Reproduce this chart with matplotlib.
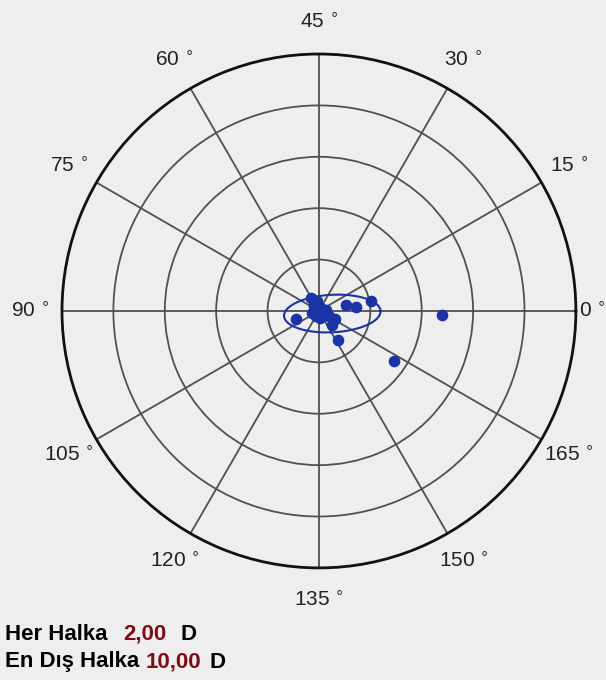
import numpy as np
import matplotlib
matplotlib.use("Agg")
import matplotlib.pyplot as plt

# astigmatism vectors: magnitude (D) and axis (deg); plotted on a double-angle chart
magnitude = [4.80, 3.51, 2.07, 1.08, 1.44, 0.96, 1.36, 0.75, 0.57, 0.28,
             0.24, 0.27, 0.26, 0.44, 0.70, 0.27, 0.39, 0.10, 0.15, 0.33]
axis_deg = [179.0, 163.2, 5.6, 6.1, 2.8, 99.7, 151.7, 157.0, 60.3, 67.5,
            118.5, 141.5, 4.4, 166.4, 166.3, 96.5, 49.4, 130.0, 30.0, 170.0]

# 95% ellipse (cartesian double-angle space, D)
ell_cx, ell_cy = 0.52, -0.10
ell_a, ell_b = 1.88, 0.73
ell_tilt = 3.0

ring_step = 2.0
outer_ring = 10.0
tick_axes = list(range(0, 180, 15))

bg = "#eeeeee"
dot_col = "#1c33a6"
lab_col = "#222222"
red = "#7b0e14"

fig = plt.figure(figsize=(6.06, 6.80), dpi=100, facecolor=bg)
ax = fig.add_axes([0.1023, 0.1647, 0.848, 0.756], projection="polar")
ax.set_facecolor(bg)

ax.set_ylim(0, outer_ring)
ax.set_yticks(np.arange(ring_step, outer_ring, ring_step))
ax.set_yticklabels([])
ax.set_thetagrids([2 * t for t in tick_axes], [""] * len(tick_axes))
ax.grid(True, color="#505050", linewidth=1.3)
ax.spines["polar"].set_color("#111111")
ax.spines["polar"].set_linewidth(2.0)

# angle labels (doubled angle), placed just outside the outer ring
for t in tick_axes:
    r_lab = 10.65 if t == 0 else 11.25
    ax.text(np.deg2rad(2 * t), r_lab, "%d $^{\\circ}$" % t, fontsize=15,
            family="Liberation Sans", color=lab_col, ha="center", va="center",
            clip_on=False)

th = np.deg2rad(2 * np.array(axis_deg))
ax.plot(th, magnitude, "o", color=dot_col, markersize=7.4, zorder=5, clip_on=False)

t = np.linspace(0, 2 * np.pi, 400)
phi = np.deg2rad(ell_tilt)
ex = ell_cx + ell_a * np.cos(t) * np.cos(phi) - ell_b * np.sin(t) * np.sin(phi)
ey = ell_cy + ell_a * np.cos(t) * np.sin(phi) + ell_b * np.sin(t) * np.cos(phi)
ax.plot(np.unwrap(np.arctan2(ey, ex)), np.hypot(ex, ey), color=dot_col, linewidth=1.5, zorder=4)

fs = 16
def put(x, y, s, c="black"):
    fig.text(x / 606, 1 - y / 680, s, fontsize=fs, weight="bold", color=c,
             family="Liberation Sans", va="center")

put(5, 634, "Her Halka")
put(123, 634, "2,00", red)
put(180, 634, "D")
put(5, 662, "En Dış Halka")
put(146, 662, "10,00", red)
put(210, 662, "D")

fig.savefig("out.png", dpi=100, facecolor=bg)
